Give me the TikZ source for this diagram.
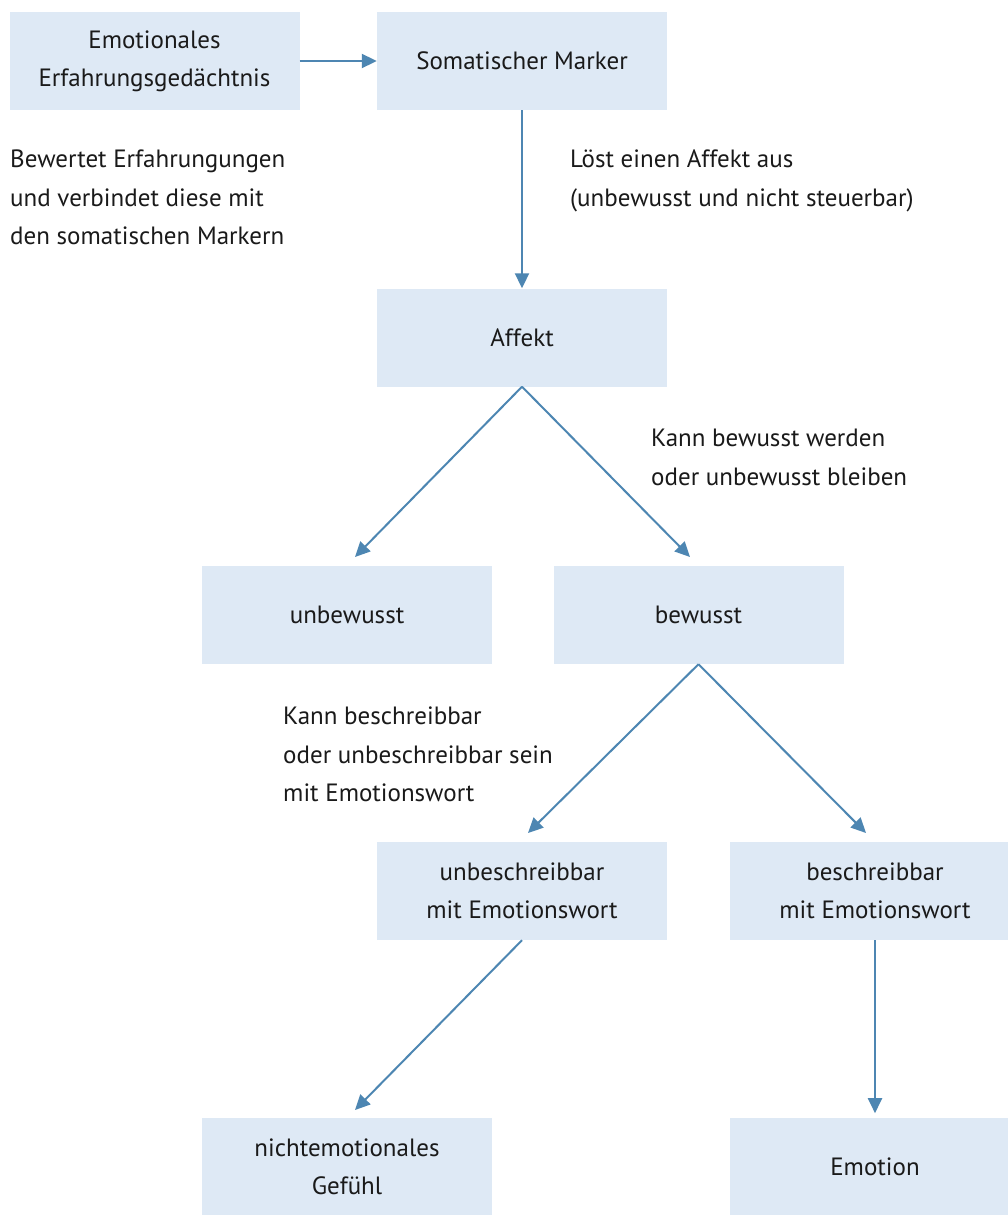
\documentclass[tikz,border=0pt]{standalone}
\usepackage{fontspec}
\setmainfont{PT Sans}
\usetikzlibrary{arrows.meta}
\definecolor{boxfill}{HTML}{DEE9F5}
\definecolor{arrowc}{HTML}{4D86B2}
\definecolor{txt}{HTML}{1A1A1A}
\begin{document}
\begin{tikzpicture}[x=1pt,y=-1pt,
  box/.style={fill=boxfill,draw=none,minimum width=290pt,minimum height=98pt,inner sep=0pt,align=center,text=txt,font=\fontsize{25}{38}\selectfont},
  note/.style={anchor=north west,inner sep=0pt,align=left,text=txt,font=\fontsize{25}{38.5}\selectfont},
  conn/.style={draw=arrowc,line width=2pt,-{Triangle[length=15pt,width=14pt]}}]
\clip (0,0) rectangle (1008,1215);
\fill[white] (0,0) rectangle (1008,1215);
\node[box] (A) at (154.5,61) {Emotionales\\Erfahrungsgedächtnis};
\node[box] (B) at (522,61) {Somatischer Marker};
\node[box] (C) at (522,337.5) {Affekt};
\node[box] (D) at (347,615) {unbewusst};
\node[box] (E) at (698.5,615) {bewusst};
\node[box] (F) at (522,891) {unbeschreibbar\\mit Emotionswort};
\node[box] (G) at (875,891) {beschreibbar\\mit Emotionswort};
\node[box] (H) at (347,1167) {nichtemotionales\\Gefühl};
\node[box] (I) at (875,1167) {Emotion};
\node[note] (n1) at (10,150) {Bewertet Erfahrungungen\\und verbindet diese mit\\den somatischen Markern};
\node[note] (n2) at (570,150) {Löst einen Affekt aus\\(unbewusst und nicht steuerbar)};
\node[note] (n3) at (651,429) {Kann bewusst werden\\oder unbewusst bleiben};
\node[note] (n4) at (283,707) {Kann beschreibbar\\oder unbeschreibbar sein\\mit Emotionswort};
\coordinate (tD) at (355,557);
\coordinate (tE) at (690,557);
\coordinate (tF) at (528,833);
\coordinate (tG) at (866,833);
\coordinate (tH) at (355,1110);
\draw[conn] (A.east) -- (B.west);
\draw[conn] (B.south) -- (C.north);
\draw[conn] (C.south) -- (tD);
\draw[conn] (C.south) -- (tE);
\draw[conn] (E.south) -- (tF);
\draw[conn] (E.south) -- (tG);
\draw[conn] (F.south) -- (tH);
\draw[conn] (G.south) -- ++(0,173);
\end{tikzpicture}
\end{document}
